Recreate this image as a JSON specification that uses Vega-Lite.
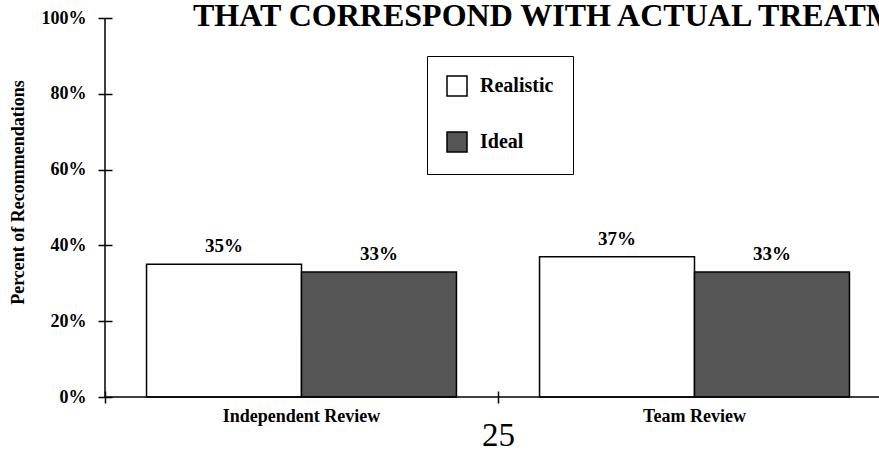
{
  "$schema": "https://vega.github.io/schema/vega-lite/v6.json",
  "width": 774,
  "height": 379,
  "autosize": {"type": "none"},
  "padding": {"left": 105, "top": 18, "right": 0, "bottom": 55},
  "background": "white",
  "config": {"view": {"stroke": null}, "font": "Liberation Serif"},
  "title": {
    "text": "THAT CORRESPOND WITH ACTUAL TREATMENT",
    "anchor": "start",
    "frame": "group",
    "font": "Liberation Serif",
    "fontSize": 32,
    "fontWeight": "bold",
    "color": "black",
    "offset": -31,
    "dx": 88,
    "dy": 18,
    "baseline": "alphabetic"
  },
  "data": {
    "values": [
      {"review": "Independent Review", "type": "Realistic", "pct": 0.35},
      {"review": "Independent Review", "type": "Ideal", "pct": 0.33},
      {"review": "Team Review", "type": "Realistic", "pct": 0.37},
      {"review": "Team Review", "type": "Ideal", "pct": 0.33}
    ]
  },
  "layer": [
    {
      "mark": {"type": "bar", "stroke": "black", "strokeWidth": 1.5},
      "encoding": {
        "x": {
          "field": "review", "type": "nominal", "sort": ["Independent Review", "Team Review"],
          "scale": {"range": [0, 786], "paddingInner": 0, "paddingOuter": 0},
          "axis": {
            "title": "25", "domain": false, "offset": -6, "tickSize": 12, "tickColor": "black", "tickWidth": 1.5,
            "bandPosition": 0, "labelAngle": 0, "labelFont": "Liberation Serif", "labelFontSize": 18,
            "labelFontWeight": "bold", "labelColor": "black", "labelPadding": 4,
            "titleFont": "Liberation Serif", "titleFontSize": 33, "titleFontWeight": "normal", "titleColor": "black",
            "titleY": 54, "titleBaseline": "alphabetic"
          }
        },
        "xOffset": {"field": "type", "type": "nominal", "sort": ["Realistic", "Ideal"], "scale": {"paddingOuter": 0.268, "paddingInner": 0}},
        "y": {
          "field": "pct", "type": "quantitative", "scale": {"domain": [0, 1]},
          "axis": {
            "title": "Percent of Recommendations", "values": [0, 0.2, 0.4, 0.6, 0.8, 1], "format": ".0%",
            "domain": false, "offset": -7, "tickSize": 14, "tickColor": "black", "tickWidth": 1.5, "grid": false,
            "labelFont": "Liberation Serif", "labelFontSize": 18, "labelFontWeight": "bold", "labelColor": "black", "labelPadding": 12,
            "titleFont": "Liberation Serif", "titleFontSize": 18, "titleFontWeight": "bold", "titleColor": "black",
            "titleX": -94, "titleY": 174, "titleAngle": -90, "titleAlign": "center", "titleBaseline": "middle"
          }
        },
        "fill": {
          "field": "type", "type": "nominal",
          "scale": {"domain": ["Realistic", "Ideal"], "range": ["white", "#555555"]},
          "legend": {
            "title": null, "orient": "none", "legendX": 322, "legendY": 38, "strokeColor": "black", "fillColor": "white",
            "padding": 19, "symbolType": "square", "symbolSize": 400, "symbolStrokeColor": "black", "symbolStrokeWidth": 1.5,
            "labelFont": "Liberation Serif", "labelFontSize": 20, "labelFontWeight": "bold", "labelColor": "black",
            "labelOffset": 12, "rowPadding": 30
          }
        }
      }
    },
    {
      "mark": {"type": "text", "baseline": "alphabetic", "dy": -12, "font": "Liberation Serif", "fontSize": 19, "fontWeight": "bold", "color": "black"},
      "encoding": {
        "x": {"field": "review", "type": "nominal", "sort": ["Independent Review", "Team Review"]},
        "xOffset": {"field": "type", "type": "nominal", "sort": ["Realistic", "Ideal"]},
        "y": {"field": "pct", "type": "quantitative"},
        "text": {"field": "pct", "type": "quantitative", "format": ".0%"}
      }
    },
    {
      "data": {"values": [{}]},
      "mark": {"type": "rule", "color": "black", "strokeWidth": 1.5},
      "encoding": {
        "x": {"datum": "Independent Review", "type": "nominal", "bandPosition": 0},
        "y": {"datum": 0, "type": "quantitative"},
        "y2": {"datum": 1}
      }
    },
    {
      "data": {"values": [{}]},
      "mark": {"type": "rule", "color": "black", "strokeWidth": 1.5},
      "encoding": {
        "y": {"datum": 0, "type": "quantitative"}
      }
    }
  ]
}
